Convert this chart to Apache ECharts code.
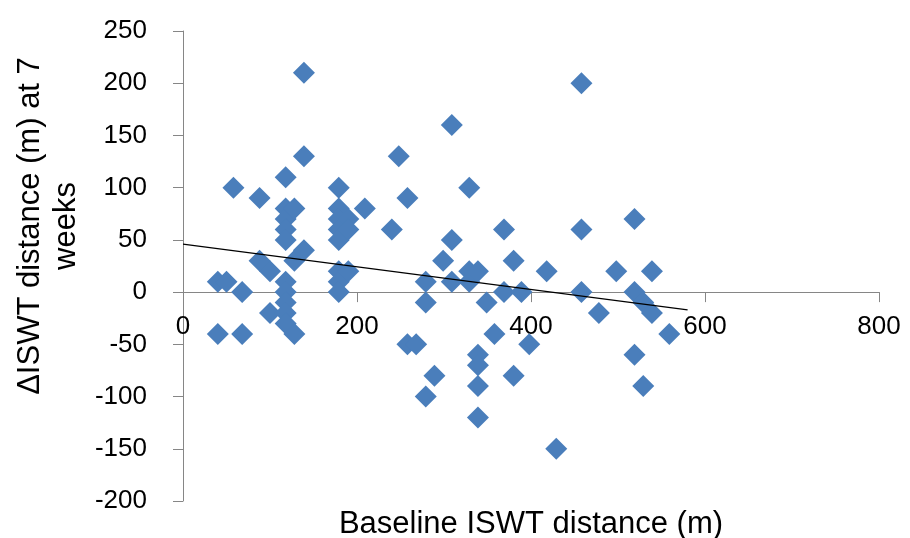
<!DOCTYPE html>
<html>
<head>
<meta charset="utf-8">
<script src="https://cdn.jsdelivr.net/npm/echarts@6/dist/echarts.min.js"></script>
<style>
  html, body { margin: 0; padding: 0; background: #fff; }
  #chart { width: 910px; height: 538px; }
</style>
</head>
<body>
<div id="chart"></div>
<script>
// baseline ISWT distance (m) and change at 7 weeks (m)
const baseline = [
  40, 40, 50, 58, 68, 68, 88, 88, 100, 100,
  118, 118, 118, 118, 118, 118, 118, 118, 118, 118,
  128, 128, 128, 139, 139, 139,
  179, 179, 179, 179, 179, 179, 179, 179, 190, 190, 190,
  209, 240, 248, 258, 258, 268, 279, 279, 279, 289, 299,
  309, 309, 309, 329, 329, 329, 339, 339, 339, 339, 339, 349, 358,
  369, 369, 380, 380, 389, 398, 418, 429,
  458, 458, 458, 478, 498, 519, 519, 519, 529, 529, 539, 539, 559
]
const change = [
  10, -40, 10, 100, 0, -40, 90, 30, 20, -20,
  110, 80, 70, 60, 50, 10, 0, -10, -20, -30,
  80, 30, -40, 210, 130, 40,
  100, 80, 70, 60, 50, 20, 10, 0, 70, 60, 20,
  80, 60, 130, 90, -50, -50, 10, -10, -100, -80, 30,
  160, 50, 10, 100, 20, 10, 20, -60, -70, -90, -120, -10, -40,
  60, 0, 30, -80, 0, -50, 20, -150,
  200, 60, 0, -20, 20, 70, 0, -60, -10, -90, 20, -20, -40
]
// linear trend line end points
const trendX = [0, 580]
const trendY = [46, -17]

const xTicks = { min: 0, max: 800, interval: 200 }
const yTicks = { min: -200, max: 250, interval: 50 }

const font = 'Liberation Sans, Arial, sans-serif'
const myChart = echarts.init(document.getElementById('chart'))

// grid box, the x axis is drawn across y = 0
const gridTop = 31
const gridBottom = 37
const plotH = 538 - gridTop - gridBottom
const zeroShift = plotH * (0 - yTicks.min) / (yTicks.max - yTicks.min)

const axisCommon = {
  type: 'value',
  splitLine: { show: false },
  axisTick: { show: true, length: 10, lineStyle: { color: '#868686' } },
  nameLocation: 'middle'
}

const option = {
  animation: false,
  grid: { left: 183, right: 31, top: gridTop, bottom: gridBottom, containLabel: false, outerBoundsMode: 'none' },
  xAxis: {
    ...axisCommon,
    ...xTicks,
    position: 'bottom',
    offset: -zeroShift,
    axisLine: { show: true, onZero: false, lineStyle: { color: '#868686', width: 1 } },
    name: 'Baseline ISWT distance (m)',
    nameGap: 217,
    nameTextStyle: { color: '#000', fontSize: 31, fontFamily: font },
    axisLabel: { color: '#000', fontSize: 26, fontFamily: font, margin: 22 }
  },
  yAxis: {
    ...axisCommon,
    ...yTicks,
    axisLine: { show: true, onZero: false, lineStyle: { color: '#868686', width: 1 } },
    name: 'ΔISWT distance (m) at 7\nweeks',
    nameGap: 92,
    nameRotate: 90,
    nameTextStyle: { color: '#000', fontSize: 31, fontFamily: font, lineHeight: 36, padding: [0, 0, 0, 80] },
    axisLabel: { color: '#000', fontSize: 26, fontFamily: font, margin: 36 }
  },
  series: [
    {
      type: 'scatter',
      symbol: 'diamond',
      symbolSize: 22,
      itemStyle: { color: '#4A7EBB', opacity: 1 },
      data: baseline.map((x, i) => [x, change[i]])
    },
    {
      type: 'line',
      symbol: 'none',
      lineStyle: { color: '#000', width: 1.2 },
      data: trendX.map((x, i) => [x, trendY[i]])
    }
  ]
}
myChart.setOption(option)
</script>
</body>
</html>
